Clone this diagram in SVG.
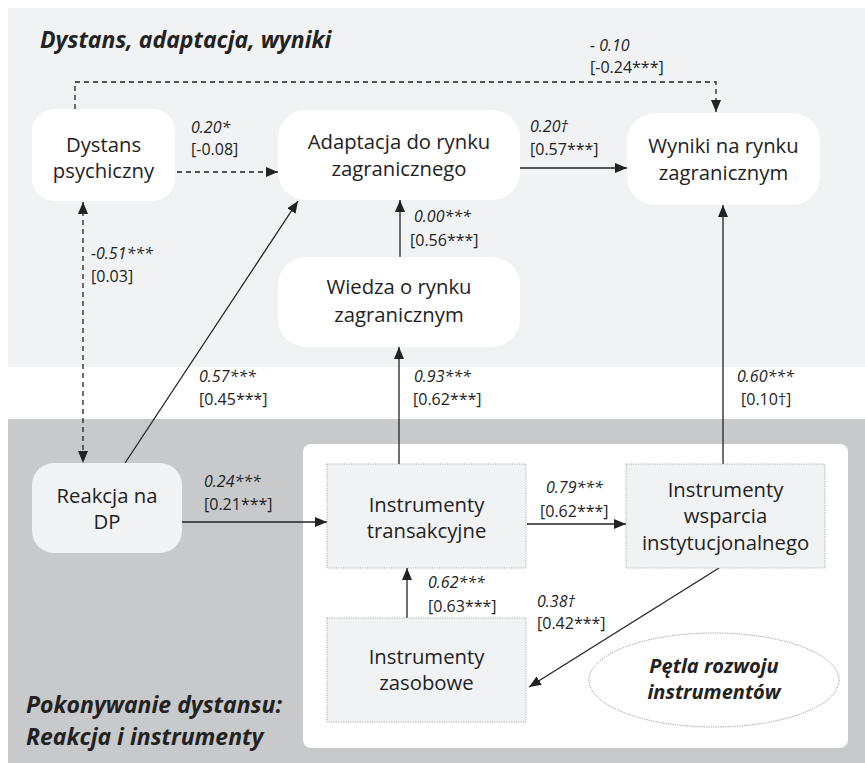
<svg xmlns="http://www.w3.org/2000/svg" width="865" height="763" viewBox="0 0 865 763">
<style>
text{font-family:"Open Sans","Liberation Sans",sans-serif;fill:#222}
.n{font-size:20.3px;text-anchor:middle}
.l{font-size:16px}
.i{font-style:italic}
.t{font-size:23px;font-weight:bold;font-style:italic}
.e{font-size:20px;font-weight:bold;font-style:italic;text-anchor:middle}
.w{fill:#fff}
.g{fill:#f1f2f4}
.box{fill:#f1f2f4;stroke:#9a9a9a;stroke-width:0.8;stroke-dasharray:1.2 1.2}
.c{fill:none;stroke:#222;stroke-width:1.3}
.d{stroke-dasharray:5 4}
</style>
<defs>
<marker id="ah" markerUnits="userSpaceOnUse" markerWidth="13" markerHeight="10" refX="12" refY="5" orient="auto-start-reverse" viewBox="0 0 13 10">
<path d="M0,0 L12,5 L0,10 z" fill="#222"/>
</marker>
</defs>
<rect x="0" y="0" width="865" height="763" fill="#fff"/>
<rect x="8" y="8" width="857" height="359" fill="#f1f2f4"/>
<rect x="8" y="419" width="857" height="344" fill="#c8c9cb"/>
<rect x="303" y="444" width="545" height="304" rx="8" fill="#fff"/>
<text class="t" x="40" y="48">Dystans, adaptacja, wyniki</text>
<text class="t" x="26" y="713">Pokonywanie dystansu:</text>
<text class="t" x="26" y="745">Reakcja i instrumenty</text>
<g id="connectors">
<path class="c d" d="M75,109 V82 H716 V112" marker-end="url(#ah)"/>
<path class="c d" d="M177,172 H278" marker-end="url(#ah)"/>
<path class="c" d="M520,168 H627" marker-end="url(#ah)"/>
<path class="c d" d="M83,202 V463" marker-start="url(#ah)" marker-end="url(#ah)"/>
<path class="c" d="M125,463 L298,201" marker-end="url(#ah)"/>
<path class="c" d="M400,257 V200" marker-end="url(#ah)"/>
<path class="c" d="M399,464 V347" marker-end="url(#ah)"/>
<path class="c" d="M723,464 V205" marker-end="url(#ah)"/>
<path class="c" d="M182,522 H327" marker-end="url(#ah)"/>
<path class="c" d="M527,524 H626" marker-end="url(#ah)"/>
<path class="c" d="M407,618 V568" marker-end="url(#ah)"/>
<path class="c" d="M719,568 L529,687" marker-end="url(#ah)"/>
<text class="l i" x="590" y="51">- 0.10</text>
<text class="l" x="590" y="73">[-0.24***]</text>
<text class="l i" x="191" y="133">0.20*</text>
<text class="l" x="191" y="155">[-0.08]</text>
<text class="l i" x="530" y="132">0.20†</text>
<text class="l" x="530" y="155">[0.57***]</text>
<text class="l i" x="91" y="259">-0.51***</text>
<text class="l" x="91" y="282">[0.03]</text>
<text class="l i" x="199" y="382">0.57***</text>
<text class="l" x="199" y="405">[0.45***]</text>
<text class="l i" x="414" y="222">0.00***</text>
<text class="l" x="410" y="246">[0.56***]</text>
<text class="l i" x="414" y="382">0.93***</text>
<text class="l" x="413" y="405">[0.62***]</text>
<text class="l i" x="737" y="382">0.60***</text>
<text class="l" x="741" y="405">[0.10†]</text>
<text class="l i" x="204" y="487">0.24***</text>
<text class="l" x="204" y="510">[0.21***]</text>
<text class="l i" x="546" y="493">0.79***</text>
<text class="l" x="540" y="517">[0.62***]</text>
<text class="l i" x="428" y="588">0.62***</text>
<text class="l" x="428" y="612">[0.63***]</text>
<text class="l i" x="537" y="607">0.38†</text>
<text class="l" x="537" y="629">[0.42***]</text>
</g>
<g id="dystans">
<rect class="w" x="32" y="109" width="143" height="92" rx="22"/>
<text class="n" x="103.5" y="152">Dystans</text>
<text class="n" x="103.5" y="178">psychiczny</text>
</g>
<g id="adaptacja">
<rect class="w" x="278" y="110" width="242" height="90" rx="28"/>
<text class="n" x="399" y="149">Adaptacja do rynku</text>
<text class="n" x="399" y="176">zagranicznego</text>
</g>
<g id="wyniki">
<rect class="w" x="627" y="113" width="193" height="92" rx="28"/>
<text class="n" x="723.5" y="153">Wyniki na rynku</text>
<text class="n" x="723.5" y="180">zagranicznym</text>
</g>
<g id="wiedza">
<rect class="w" x="278" y="257" width="242" height="90" rx="28"/>
<text class="n" x="399" y="294">Wiedza o rynku</text>
<text class="n" x="399" y="322">zagranicznym</text>
</g>
<g id="reakcja">
<rect class="g" x="32" y="463" width="150" height="90" rx="22"/>
<text class="n" x="107" y="503">Reakcja na</text>
<text class="n" x="107" y="529">DP</text>
</g>
<g id="transakcyjne">
<rect class="box" x="327" y="464" width="199" height="104"/>
<text class="n" x="426.5" y="512">Instrumenty</text>
<text class="n" x="426.5" y="538">transakcyjne</text>
</g>
<g id="wsparcia">
<rect class="box" x="626" y="464" width="199" height="104"/>
<text class="n" x="725.5" y="497">Instrumenty</text>
<text class="n" x="725.5" y="523">wsparcia</text>
<text class="n" x="725.5" y="550">instytucjonalnego</text>
</g>
<g id="zasobowe">
<rect class="box" x="327" y="618" width="199" height="104"/>
<text class="n" x="426.5" y="664">Instrumenty</text>
<text class="n" x="426.5" y="690">zasobowe</text>
</g>
<g id="petla">
<ellipse cx="714" cy="680" rx="125" ry="47" fill="#fff" stroke="#888" stroke-width="0.9" stroke-dasharray="1.2 1.2"/>
<text class="e" x="714" y="673">Pętla rozwoju</text>
<text class="e" x="714" y="699">instrumentów</text>
</g>
</svg>
